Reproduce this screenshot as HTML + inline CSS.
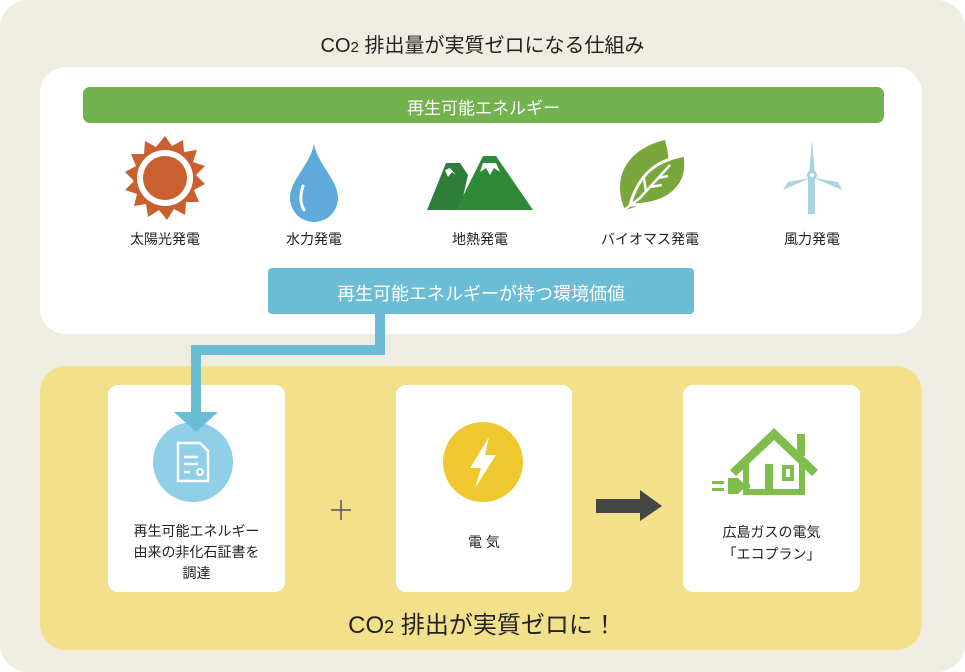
<!DOCTYPE html><html><head><meta charset="utf-8"><style>
body{margin:0;width:965px;height:672px;overflow:hidden;background:#fff;font-family:"Liberation Sans","Noto Sans CJK JP",sans-serif;color:#222}
.a{position:absolute}
.t{position:absolute;text-align:center;white-space:nowrap}
</style></head><body>
<div class="a" style="left:0;top:0;width:965px;height:672px;background:#efece2;border-radius:28px"></div>
<div class="t" style="left:0;width:965px;top:29px;font-size:20px">CO<span style="font-size:15px">2</span> 排出量が実質ゼロになる仕組み</div>
<div class="a" style="left:40px;top:67px;width:882px;height:267px;background:#fff;border-radius:26px"></div>
<div class="a" style="left:83px;top:87px;width:801px;height:36px;background:#72b34f;border-radius:7px"></div>
<div class="t" style="left:83px;width:801px;top:94px;font-size:17px;color:#fff">再生可能エネルギー</div>
<svg class="a" style="left:0;top:0" width="965" height="672">
<g transform="translate(165,178)">
<polygon fill="#c9602f" points="0,-42 7,-32 18,-38 19,-26 32,-28 28,-16 40,-12 31,-3 40,6 29,12 34,24 21,24 20,37 9,31 2,42 -6,32 -17,39 -19,26 -31,28 -28,16 -40,12 -31,3 -40,-6 -29,-12 -34,-24 -21,-24 -20,-37 -9,-31"/>
<circle r="28" fill="#fff"/><circle r="22" fill="#c9602f"/></g>
<path d="M314,144 C310,165 290,180 290,198 A24,24 0 0 0 338,198 C338,180 318,165 314,144Z" fill="#5eaadb"/>
<path d="M303,186 C300,195 300,203 304,210" stroke="#fff" stroke-width="3" fill="none" stroke-linecap="round"/>
<polygon fill="#2f7d38" points="427,210 446,163 460,163 468,175 460,210"/>
<polygon fill="#2f8a37" points="456,210 483,156 496,156 533,210"/>
<polygon fill="#fff" points="445,170 450,168 456,175 452,172 448,177"/>
<polygon fill="#fff" points="483,163 496,163 500,172 494,168 490,175 486,168 480,172"/>
<path d="M625,210 C610,175 630,148 665,140 C675,175 665,200 625,210Z" fill="#7aa73c"/>
<path d="M630,205 C640,170 660,160 685,155 C690,185 670,205 630,205Z" fill="#7aa73c" stroke="#fff" stroke-width="3"/>
<path d="M620,213 L640,198 L670,165 M650,187 L662,185 M646,192 L644,178 M658,178 L668,176" stroke="#fff" stroke-width="2.5" fill="none"/>
<g fill="#a8d4e2"><rect x="808" y="178" width="7" height="36"/>
<path d="M809,175 L812,140 L815,175Z"/><path d="M810,178 L783,190 L788,182Z"/><path d="M814,178 L842,190 L838,182Z"/>
<circle cx="812" cy="175" r="5"/></g><circle cx="812" cy="175" r="2" fill="#fff"/>
</svg>
<div class="t" style="left:115px;width:100px;top:229px;font-size:14px">太陽光発電</div>
<div class="t" style="left:264px;width:100px;top:229px;font-size:14px">水力発電</div>
<div class="t" style="left:430px;width:100px;top:229px;font-size:14px">地熱発電</div>
<div class="t" style="left:588px;width:124px;top:229px;font-size:14px">バイオマス発電</div>
<div class="t" style="left:762px;width:100px;top:229px;font-size:14px">風力発電</div>
<div class="a" style="left:40px;top:366px;width:882px;height:284px;background:#f2e08a;border-radius:26px"></div>
<div class="a" style="left:108px;top:385px;width:177px;height:207px;background:#fff;border-radius:10px"></div>
<div class="a" style="left:396px;top:385px;width:176px;height:207px;background:#fff;border-radius:10px"></div>
<div class="a" style="left:683px;top:385px;width:177px;height:207px;background:#fff;border-radius:10px"></div>
<svg class="a" style="left:0;top:0" width="965" height="672">
<polyline points="380,314 380,350 196,350 196,412" stroke="#6bbdd6" stroke-width="10" fill="none"/>
<circle cx="193" cy="462" r="40" fill="#8fcfe8"/>
<polygon points="174,412 218,412 196,432" fill="#6bbdd6"/>
<path d="M178,443 h22 l8,8 v30 h-30Z" fill="none" stroke="#fff" stroke-width="2.5"/>
<path d="M184,457 h14 M184,464 h14 M184,472 h6" stroke="#fff" stroke-width="2.5"/>
<circle cx="200" cy="472" r="3" fill="none" stroke="#fff" stroke-width="2"/>
<circle cx="483" cy="462" r="40" fill="#eec82e"/>
<polygon points="489,437 470,468 481,468 475,488 496,455 485,455" fill="#fff"/>
<path d="M331,510 h20 M341,500 v20" stroke="#555" stroke-width="1.5"/>
<polygon points="596,499 640,499 640,490 662,506 640,521 640,513 596,513" fill="#454545"/>
<g fill="#7fbd4c">
<rect x="797" y="434" width="8" height="22"/>
<polygon points="774,428 818,470 812,476 774,440 736,476 730,470"/>
<path d="M743,463 v32 h62 v-32 l-6,-5 v31 h-50 v-31z"/>
<rect x="765" y="464" width="8" height="30"/>
<path d="M782,465 h12 v16 h-12z M786,469 v8 h4 v-8z"/>
<path d="M728,478 h10 l6,6 v4 l-6,6 h-10z M712,481 h12 v3 h-12z M712,488 h12 v3 h-12z M744,484 h6 v4 h-6z"/>
</g>
</svg>
<div class="t" style="left:108px;width:177px;top:521px;font-size:14px;line-height:21px">再生可能エネルギー<br>由来の非化石証書を<br>調達</div>
<div class="t" style="left:396px;width:176px;top:532px;font-size:14px">電 気</div>
<div class="t" style="left:683px;width:177px;top:521px;font-size:14px;line-height:22px">広島ガスの電気<br>「エコプラン」</div>
<div class="t" style="left:0;width:965px;top:605px;font-size:24px">CO<span style="font-size:18px">2</span> 排出が実質ゼロに！</div>
<div class="a" style="left:268px;top:268px;width:426px;height:46px;background:#6bbdd6;border-radius:4px"></div>
<div class="t" style="left:268px;width:426px;top:280px;font-size:18px;color:#fff">再生可能エネルギーが持つ環境価値</div>
</body></html>
